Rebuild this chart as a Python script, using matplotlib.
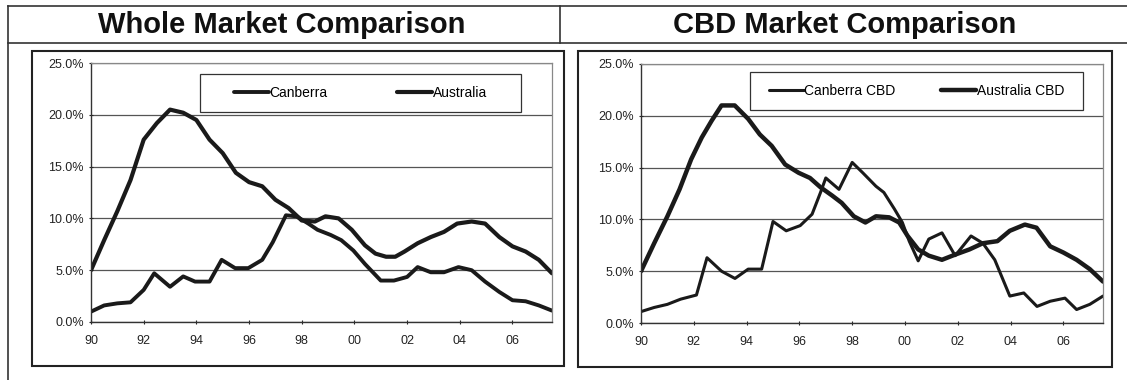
import matplotlib
matplotlib.use('Agg')
import matplotlib.pyplot as plt
from matplotlib.lines import Line2D
from matplotlib.patches import Rectangle

plt.rcParams['font.family'] = ['Liberation Sans', 'DejaVu Sans']

# ---- data (year, vacancy %) ----
whole_aus_x = [1990.0, 1990.5, 1991.0, 1991.5, 1992.0, 1992.5, 1993.0, 1993.5, 1994.0, 1994.5,
               1995.0, 1995.5, 1996.0, 1996.5, 1997.0, 1997.5, 1998.0, 1998.5, 1998.9, 1999.4,
               1999.9, 2000.4, 2000.8, 2001.2, 2001.55, 2001.9, 2002.4, 2002.9, 2003.4, 2003.9,
               2004.45, 2004.96, 2005.5, 2006.0, 2006.5, 2007.0, 2007.5]
whole_aus_y = [5.0, 7.9, 10.7, 13.7, 17.6, 19.2, 20.5, 20.2, 19.5, 17.6,
               16.3, 14.4, 13.5, 13.1, 11.8, 11.0, 9.8, 9.7, 10.2, 10.0,
               8.9, 7.4, 6.6, 6.3, 6.3, 6.8, 7.6, 8.2, 8.7, 9.5,
               9.7, 9.5, 8.2, 7.3, 6.8, 6.0, 4.7]

whole_cbr_x = [1990.0, 1990.5, 1991.0, 1991.5, 1992.0, 1992.4, 1993.0, 1993.5, 1993.95, 1994.5,
               1994.96, 1995.47, 1995.97, 1996.5, 1996.9, 1997.4, 1997.8, 1998.25, 1998.6, 1999.1,
               1999.5, 1999.96, 2000.4, 2001.0, 2001.5, 2002.0, 2002.4, 2002.9, 2003.4, 2003.95,
               2004.45, 2004.96, 2005.5, 2006.0, 2006.5, 2007.0, 2007.5]
whole_cbr_y = [1.0, 1.6, 1.8, 1.9, 3.1, 4.7, 3.4, 4.4, 3.9, 3.9,
               6.0, 5.2, 5.2, 6.0, 7.7, 10.3, 10.2, 9.5, 8.9, 8.4,
               7.9, 6.9, 5.6, 4.0, 4.0, 4.35, 5.3, 4.8, 4.8, 5.3,
               5.0, 3.9, 2.9, 2.1, 2.0, 1.6, 1.1]

cbd_aus_x = [1990.0, 1990.5, 1991.0, 1991.46, 1991.9, 1992.3, 1992.67, 1993.05, 1993.55, 1994.06,
             1994.5, 1994.95, 1995.46, 1995.97, 1996.4, 1996.8, 1997.24, 1997.6, 1998.06, 1998.5,
             1998.9, 1999.4, 1999.78, 2000.1, 2000.5, 2000.9, 2001.4, 2001.9, 2002.44, 2002.95,
             2003.5, 2003.97, 2004.54, 2004.98, 2005.5, 2006.0, 2006.5, 2007.0, 2007.5]
cbd_aus_y = [5.0, 7.7, 10.3, 12.9, 15.8, 17.9, 19.5, 21.0, 21.0, 19.7,
             18.2, 17.1, 15.3, 14.5, 14.0, 13.1, 12.3, 11.6, 10.3, 9.7,
             10.3, 10.2, 9.7, 8.4, 7.1, 6.5, 6.1, 6.6, 7.1, 7.7,
             7.9, 8.9, 9.5, 9.2, 7.4, 6.8, 6.1, 5.2, 4.0]

cbd_cbr_x = [1990.0, 1990.5, 1991.0, 1991.5, 1992.1, 1992.5, 1993.05, 1993.56, 1994.06, 1994.57,
             1995.0, 1995.5, 1996.03, 1996.48, 1996.8, 1997.0, 1997.5, 1998.0, 1998.4, 1998.9,
             1999.2, 1999.6, 1999.9, 2000.16, 2000.5, 2000.9, 2001.4, 2001.9, 2002.5, 2002.95,
             2003.4, 2003.97, 2004.5, 2005.0, 2005.5, 2006.06, 2006.5, 2007.0, 2007.5]
cbd_cbr_y = [1.1, 1.5, 1.8, 2.3, 2.7, 6.3, 5.0, 4.3, 5.2, 5.2,
             9.8, 8.9, 9.4, 10.5, 12.6, 14.0, 12.9, 15.5, 14.5, 13.2,
             12.6, 11.0, 9.7, 7.9, 6.0, 8.1, 8.7, 6.5, 8.4, 7.7,
             6.1, 2.6, 2.9, 1.6, 2.1, 2.4, 1.3, 1.8, 2.6]

year_ticks = [1990, 1992, 1994, 1996, 1998, 2000, 2002, 2004, 2006]
year_labels = ['90', '92', '94', '96', '98', '00', '02', '04', '06']
pct_ticks = [0, 5, 10, 15, 20, 25]

W, H = 1127, 380
fig = plt.figure(figsize=(W / 100, H / 100), dpi=100)
fig.patch.set_facecolor('white')


def rect(x0, y0, x1, y1):
    # pixel box -> figure fraction
    return [x0 / W, 1 - y1 / H, (x1 - x0) / W, (y1 - y0) / H]


def fline(xs, ys, lw=1.2, color='#333333'):
    fig.add_artist(Line2D([x / W for x in xs], [1 - y / H for y in ys],
                          transform=fig.transFigure, color=color, lw=lw))


def fbox(x0, y0, x1, y1, lw=1.5):
    fig.add_artist(Rectangle((x0 / W, 1 - y1 / H), (x1 - x0) / W, (y1 - y0) / H,
                             transform=fig.transFigure, fill=False, ec='#222222', lw=lw))


# table frame + titles
fline([8, 1127], [6, 6])
fline([8, 1127], [43, 43])
fline([8, 8], [6, 380])
fline([560, 560], [6, 43])
fig.text(282 / W, 1 - 25 / H, 'Whole Market Comparison', ha='center', va='center',
         fontsize=21, fontweight='bold', color='#111111')
fig.text(845 / W, 1 - 25 / H, 'CBD Market Comparison', ha='center', va='center',
         fontsize=21, fontweight='bold', color='#111111')

# chart boxes
fbox(32, 51, 564, 366)
fbox(578, 51, 1112, 367)


def panel(box, series, labels, leg_box, colspace):
    ax = fig.add_axes(rect(*box))
    for (xs, ys), lw in series:
        ax.plot(xs, ys, color='#1a1a1a', lw=lw, solid_joinstyle='round', solid_capstyle='round')
    ax.set_xlim(1990, 2007.5)
    ax.set_ylim(0, 25)
    ax.set_xticks(year_ticks)
    ax.set_xticklabels(year_labels)
    ax.set_yticks(pct_ticks)
    ax.set_yticklabels(['%.1f%%' % v for v in pct_ticks])
    ax.yaxis.grid(True, color='#555555', lw=0.9)
    ax.set_axisbelow(True)
    ax.tick_params(axis='both', labelsize=9, length=3, width=0.8, direction='inout',
                   colors='#222222')
    ax.tick_params(axis='x', pad=8)
    for s in ['top', 'right']:
        ax.spines[s].set_color('#888888')
        ax.spines[s].set_linewidth(0.9)
    for s in ['left', 'bottom']:
        ax.spines[s].set_color('#333333')
        ax.spines[s].set_linewidth(1.0)
    # legend frame drawn separately, entries centred inside it
    x0, y0, w, h = leg_box
    ax.add_patch(Rectangle((x0, y0), w, h, transform=ax.transAxes, fill=True, fc='white',
                           ec='#333333', lw=0.9, zorder=4))
    ax.legend(labels, loc='center', bbox_to_anchor=(x0 + w / 2, y0 + h / 2), ncol=2,
              fontsize=10, handlelength=2.5, handletextpad=0.05, columnspacing=colspace,
              frameon=False).set_zorder(5)
    return ax


panel((91, 63, 552, 322),
      [((whole_cbr_x, whole_cbr_y), 2.8), ((whole_aus_x, whole_aus_y), 3.0)],
      ['Canberra', 'Australia'], (0.236, 0.811, 0.697, 0.147), 5.0)
panel((641, 64, 1103, 323),
      [((cbd_cbr_x, cbd_cbr_y), 2.2), ((cbd_aus_x, cbd_aus_y), 3.2)],
      ['Canberra CBD', 'Australia CBD'], (0.236, 0.822, 0.721, 0.147), 3.3)

fig.savefig('out.png', dpi=100, facecolor='white')
